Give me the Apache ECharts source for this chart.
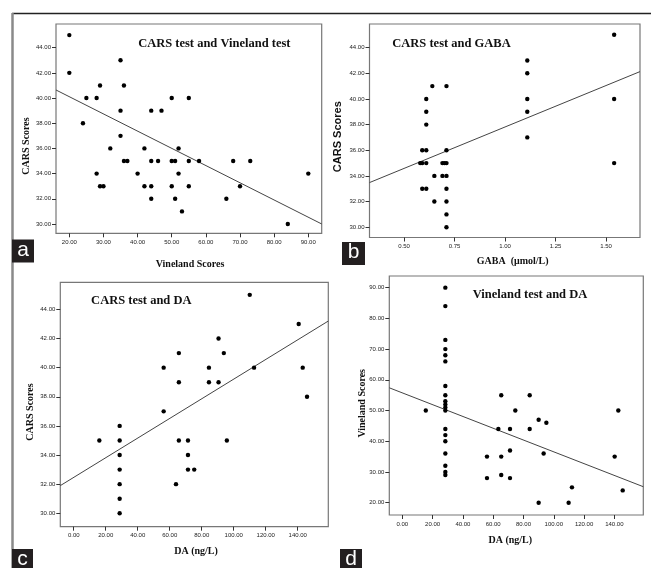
<!DOCTYPE html>
<html>
<head>
<meta charset="utf-8">
<script src="https://cdn.jsdelivr.net/npm/echarts@6/dist/echarts.min.js"></script>
<style>
html,body{margin:0;padding:0;background:#fff;}
#main{width:651px;height:568px;}
</style>
</head>
<body>
<div id="main"></div>
<script>
// Panel a: CARS vs Vineland
const aVineland = [20,20,25,24,28,29,28,29,30,32,35,35,36,35,36,37,40,42,42,44,44,44,44,46,47,50,50,51,50,51,52,52,53,55,55,55,58,66,68,70,73,84,90];
const aCars     = [45,42,40,38,40,41,34,33,33,36,43,39,41,37,35,35,34,36,33,39,35,33,32,35,39,40,35,35,33,32,36,34,31,40,35,33,35,32,35,33,35,30,34];
const aFitX = [16.1, 93.93];
const aFitY = [40.64, 30.0];

// Panel b: CARS vs GABA
const bGaba = [0.58,0.59,0.59,0.59,0.61,0.61,0.61,0.61,0.61,0.61,0.64,0.65,0.65,0.69,0.69,0.70,0.71,0.71,0.71,0.71,0.71,0.71,0.71,0.71,1.11,1.11,1.11,1.11,1.11,1.54,1.54,1.54];
const bCars = [35,36,35,33,40,39,38,36,35,33,41,34,32,35,34,35,41,36,35,34,33,32,31,30,43,42,40,39,37,45,40,35];
const bFitX = [0.329, 1.668];
const bFitY = [33.48, 42.13];

// Panel c: CARS vs DA
const cDa   = [16.0,28.7,28.7,28.7,28.7,28.7,28.7,28.7,56.2,56.2,63.9,65.7,65.7,65.7,71.4,71.4,71.4,75.3,84.5,84.5,90.5,90.5,93.8,95.7,110.0,112.7,140.6,143.1,145.8];
const cCars = [35,36,35,34,33,32,31,30,40,37,32,41,39,35,35,34,33,33,40,39,42,39,41,35,45,40,43,40,38];
const cFitX = [-8.4, 159.1];
const cFitY = [31.9, 43.2];

// Panel d: Vineland vs DA
const dDa       = [15.5,28.4,28.4,28.4,28.4,28.4,28.4,28.4,28.4,28.4,28.4,28.4,28.4,28.4,28.4,28.4,28.4,28.4,28.4,28.4,55.9,55.9,63.4,65.3,65.3,65.3,71.1,71.1,71.1,74.6,84.1,84.1,90.0,90.0,93.3,95.1,109.8,112.0,140.2,142.6,145.5];
const dVineland = [50,90,84,73,70,68,66,58,55,53,52,51,50,44,42,40,36,32,30,29,35,28,44,55,35,29,44,37,28,50,55,44,47,20,36,46,20,25,35,50,24];
const dFitX = [-8.6, 159.1];
const dFitY = [57.4, 25.2];

// Tick values
const aXTicks = [20,30,40,50,60,70,80,90];
const bXTicks = [0.5,0.75,1.0,1.25,1.5];
const cdXTicks = [0,20,40,60,80,100,120,140];
const carsYTicks = [30,32,34,36,38,40,42,44];
const dYTicks = [20,30,40,50,60,70,80,90];

// Text
const titles = ['CARS test and Vineland test','CARS test and GABA','CARS test and DA','Vineland test and DA'];
const xNames = ['Vineland Scores','GABA  (\u03bcmol/L)','DA (ng/L)','DA (ng/L)'];
const yNames = ['CARS Scores','CARS Scores','CARS Scores','Vineland Scores'];
const panelLetters = ['a','b','c','d'];

const zip = (xs, ys) => xs.map((x, i) => [x, ys[i]]);
const fmt2 = v => v.toFixed(2);

const grids = [
  {left:56, top:24, width:265.7, height:209.3},
  {left:369.5, top:24, width:270.5, height:213.5},
  {left:60.3, top:282.3, width:268, height:244.4},
  {left:389.3, top:276, width:254, height:239}
].map(g => Object.assign({show:true, borderColor:'#777', borderWidth:1.2, backgroundColor:'transparent', containLabel:false, outerBoundsMode:'none'}, g));

function xAx(i, min, max, ticks) {
  return {type:'value', gridIndex:i, min:min, max:max,
    axisLine:{show:false, onZero:false}, splitLine:{show:false},
    axisTick:{show:true, length:4, customValues:ticks, lineStyle:{color:'#333', width:1}},
    axisLabel:{customValues:ticks, formatter:fmt2, fontSize:6, color:'#222', margin:6, fontFamily:'Liberation Sans'}};
}
function yAx(i, min, max, ticks) {
  return {type:'value', gridIndex:i, min:min, max:max,
    axisLine:{show:false, onZero:false}, splitLine:{show:false},
    axisTick:{show:true, length:4, customValues:ticks, lineStyle:{color:'#333', width:1}},
    axisLabel:{customValues:ticks, formatter:fmt2, fontSize:6, color:'#222', margin:5, fontFamily:'Liberation Sans'}};
}

const xAxes = [
  xAx(0, 16.1, 93.93, aXTicks),
  xAx(1, 0.329, 1.668, bXTicks),
  xAx(2, -8.4, 159.1, cdXTicks),
  xAx(3, -8.6, 159.1, cdXTicks)
];
const yAxes = [
  yAx(0, 29.26, 45.88, carsYTicks),
  yAx(1, 29.2, 45.84, carsYTicks),
  yAx(2, 29.08, 45.86, carsYTicks),
  yAx(3, 15.99, 93.8, dYTicks)
];

const pts = [zip(aVineland,aCars), zip(bGaba,bCars), zip(cDa,cCars), zip(dDa,dVineland)];
const fits = [zip(aFitX,aFitY), zip(bFitX,bFitY), zip(cFitX,cFitY), zip(dFitX,dFitY)];

const series = [];
for (let i = 0; i < 4; i++) {
  series.push({type:'line', xAxisIndex:i, yAxisIndex:i, data:fits[i], symbol:'none', silent:true,
    lineStyle:{color:'#444', width:1}, z:2, animation:false});
  series.push({type:'scatter', xAxisIndex:i, yAxisIndex:i, data:pts[i], symbol:'circle', symbolSize:4.4,
    itemStyle:{color:'#000', opacity:1}, z:3, animation:false});
}

const serifBold = 'bold 12.5px "Liberation Serif", "Times New Roman", serif';
const axisSerif = 'bold 10px "Liberation Serif", "Times New Roman", serif';
const axisSans = 'bold 11px "Liberation Sans", Arial, sans-serif';

function txt(x, y, text, font, rot) {
  return {type:'text', x:x, y:y, rotation:rot||0, z:10,
    style:{text:text, font:font, fill:'#111', textAlign:'center', textVerticalAlign:'middle', align:'center', verticalAlign:'middle'}};
}
function letterBox(x, y, w, h, letter) {
  return [
    {type:'rect', shape:{x:x, y:y, width:w, height:h}, style:{fill:'#231f20'}, z:10},
    {type:'text', x:x + w/2, y:y + h/2 - 1, z:11,
      style:{text:letter, font:'21px "Liberation Sans", Arial, sans-serif', fill:'#fff', textAlign:'center', textVerticalAlign:'middle', align:'center', verticalAlign:'middle'}}
  ];
}

const graphic = [
  {type:'line', shape:{x1:12, y1:13.5, x2:651, y2:13.5}, style:{stroke:'#222', lineWidth:1.5}, z:5},
  {type:'line', shape:{x1:12.5, y1:13, x2:12.5, y2:568}, style:{stroke:'#8a8a8a', lineWidth:2.5}, z:5},
  txt(214.3, 43.3, titles[0], serifBold),
  txt(451.5, 43.3, titles[1], serifBold),
  txt(141.3, 300.7, titles[2], serifBold),
  txt(530, 295, titles[3], serifBold),
  txt(190, 264, xNames[0], axisSerif),
  txt(512.7, 261.7, xNames[1], axisSerif),
  txt(196, 551.7, xNames[2], axisSerif),
  txt(510.3, 540, xNames[3], axisSerif),
  txt(26.7, 146, yNames[0], axisSerif, Math.PI/2),
  txt(338.3, 136.7, yNames[1], axisSans, Math.PI/2),
  txt(30, 412, yNames[2], axisSerif, Math.PI/2),
  txt(362.3, 403.3, yNames[3], axisSerif, Math.PI/2)
].concat(
  letterBox(12, 239.5, 22, 23, panelLetters[0]),
  letterBox(342, 242, 23, 23, panelLetters[1]),
  letterBox(12, 549, 21, 23, panelLetters[2]),
  letterBox(340, 549, 22, 23, panelLetters[3])
);

const chart = echarts.init(document.getElementById('main'), null, {renderer:'canvas'});
chart.setOption({
  animation:false,
  backgroundColor:'#fff',
  grid:grids,
  xAxis:xAxes,
  yAxis:yAxes,
  series:series,
  graphic:graphic
});
</script>
</body>
</html>
